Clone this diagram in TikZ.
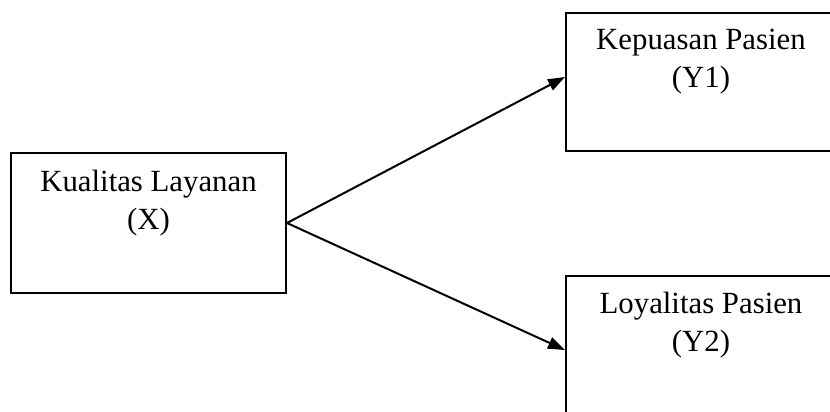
\documentclass[tikz,border=0pt]{standalone}
\usepackage{fontspec}
\setmainfont{Liberation Serif}
\usetikzlibrary{arrows.meta,calc}
\begin{document}
\begin{tikzpicture}[x=1pt,y=-1pt,
  box/.style={draw=black, line width=2pt, rectangle, inner sep=0pt, anchor=north west},
  lbl/.style={anchor=north, inner sep=0pt, align=center,
    font=\fontsize{30.8}{38}\selectfont},
  link/.style={line width=2pt, -{Triangle[length=17pt,width=12pt]}}]
  \clip (0,0) rectangle (830,412);
  \fill[white] (0,0) rectangle (830,412);
  % boxes
  \node[box, minimum width=275pt, minimum height=140pt] (x) at (10,152) {};
  \node[box, minimum width=270pt, minimum height=138pt] (y1) at (565,12) {};
  \node[box, minimum width=270pt, minimum height=160pt] (y2) at (565,275) {};
  % labels
  \node[lbl] (xt) at ($(x.north)+(0,18)$) {Kualitas Layanan\\(X)};
  \node[lbl] (y1t) at ($(y1.north)+(0,17)$) {Kepuasan Pasien\\(Y1)};
  \node[lbl] (y2t) at ($(y2.north)+(0,17)$) {Loyalitas Pasien\\(Y2)};
  % arrow targets on the left edges
  \coordinate (t1) at ($(y1.north west)+(0,65)$);
  \coordinate (t2) at ($(y2.north west)+(0,75)$);
  \draw[link] (x.east) -- (t1);
  \draw[link] (x.east) -- (t2);
\end{tikzpicture}
\end{document}
